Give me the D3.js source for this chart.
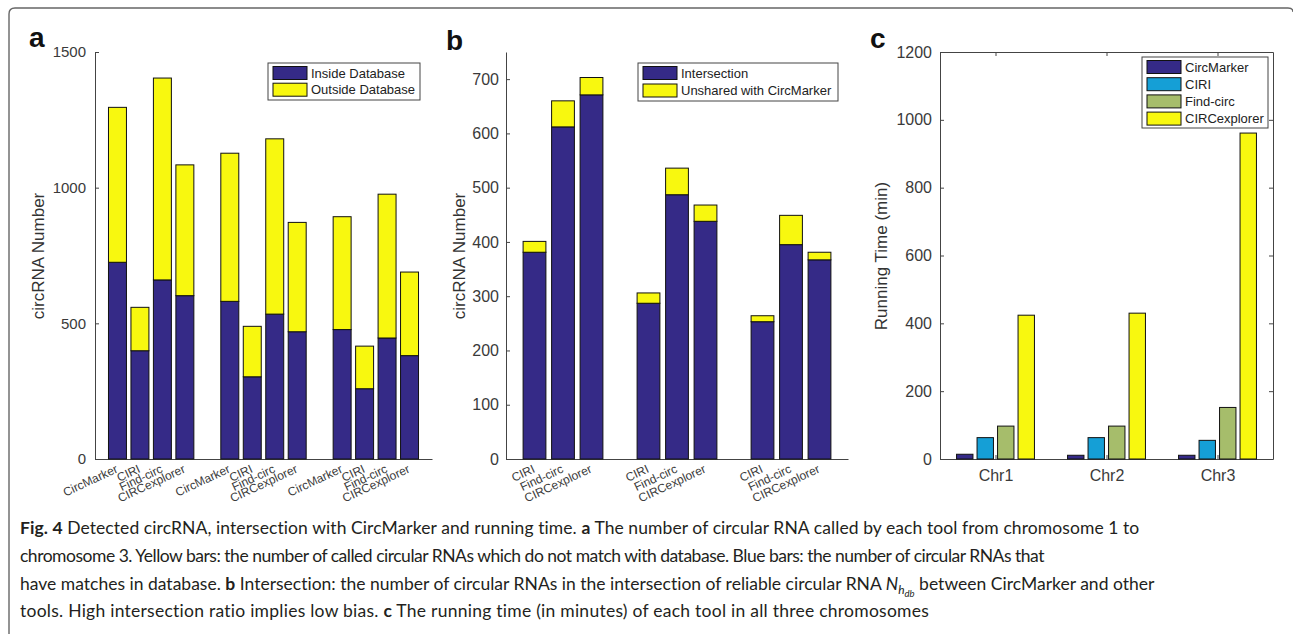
<!DOCTYPE html>
<html>
<head>
<meta charset="utf-8">
<script src="https://cdn.jsdelivr.net/npm/d3@7"></script>
<style>
body { margin: 0; background: #fff; }
svg { display: block; font-family: "Liberation Sans", Arial, sans-serif; }
.axis path, .axis line { stroke: #444; }
.axis text { fill: #3a3a3a; }
</style>
</head>
<body>
<svg id="fig" width="1293" height="634"></svg>
<script>
// ---- data ----
var tools = ["CircMarker", "CIRI", "Find-circ", "CIRCexplorer"];
var toolsB = ["CIRI", "Find-circ", "CIRCexplorer"];
var chroms = ["Chr1", "Chr2", "Chr3"];

// panel a : per chromosome, 4 tools each
var insideA = [725, 399, 660, 602, 581, 303, 534, 469, 477, 259, 446, 381];
var outsideA = [571, 160, 744, 482, 546, 186, 646, 403, 416, 157, 530, 308];
var ticksA = [0, 500, 1000, 1500];

// panel b : per chromosome, 3 tools each
var sharedB = [381, 612, 671, 287, 487, 438, 253, 395, 367];
var unsharedB = [20, 48, 32, 19, 49, 30, 11, 54, 14];
var ticksB = [0, 100, 200, 300, 400, 500, 600, 700];

// panel c : running time (min), rows = chromosomes, cols = tools
var timeC = [
	[14, 63, 97, 424],
	[11, 63, 97, 430],
	[11, 55, 152, 961]
];
var ticksC = [0, 200, 400, 600, 800, 1000, 1200];

var legendA = ["Inside Database", "Outside Database"];
var legendB = ["Intersection", "Unshared with CircMarker"];

var navy = "#352a87", yellow = "#f8f80f";
var colorsC = [navy, "#159fd6", "#a6bd6b", yellow];

var svg = d3.select("#fig");
var fmt = d3.format("d");

// frame round the figure
svg.append("path")
	.attr("d", "M9,634 V14 Q9,8 15,8 H1288 Q1293,8 1293,12")
	.attr("fill", "none").attr("stroke", "#666").attr("stroke-width", 1.4);

function styleAxis(g, size) {
	g.attr("class", "axis").attr("font-size", size).attr("font-family", null);
}

function rotateLabels(g) {
	g.selectAll(".tick text")
		.attr("y", 0).attr("dy", "0.72em")
		.attr("text-anchor", "end")
		.attr("transform", "translate(-3,5) rotate(-25)");
}

function drawLegend(x, y, w, h, labels, colors, pitch, fs) {
	var lg = svg.append("g").attr("transform", "translate(" + x + "," + y + ")");
	lg.append("rect").attr("width", w).attr("height", h)
		.attr("fill", "#fff").attr("stroke", "#444").attr("stroke-width", 1);
	labels.forEach(function (t, i) {
		lg.append("rect").attr("x", 5).attr("y", 3.5 + i * pitch)
			.attr("width", 34).attr("height", 13)
			.attr("fill", colors[i]).attr("stroke", "#111").attr("stroke-width", 1);
		lg.append("text").attr("x", 43).attr("y", 3.5 + i * pitch + 11)
			.attr("font-size", fs).attr("fill", "#222").text(t);
	});
}

function panelLetter(x, y, t) {
	svg.append("text").attr("x", x).attr("y", y)
		.attr("font-size", 28).attr("font-weight", "bold").attr("fill", "#111").text(t);
}

function yLabel(x, y, t, fs) {
	svg.append("text").attr("transform", "translate(" + x + "," + y + ") rotate(-90)")
		.attr("text-anchor", "middle").attr("font-size", fs).attr("fill", "#333").text(t);
}

////////////////////////////////////
// panel a
var xA = d3.scaleLinear().domain([0, 15]).range([95, 432]);
var yA = d3.scaleLinear().domain([0, 1500]).range([459, 52]);
var posA = insideA.map(function (d, k) { return Math.floor(k / 4) * 5 + k % 4 + 1; });

var gxA = svg.append("g").attr("transform", "translate(0,459)")
	.call(d3.axisBottom(xA).tickValues(posA).tickFormat(function (d, i) { return tools[i % 4]; })
		.tickSize(-4).tickSizeOuter(0));
styleAxis(gxA, 12);
rotateLabels(gxA);

var gyA = svg.append("g").attr("transform", "translate(95,0)")
	.call(d3.axisLeft(yA).tickValues(ticksA).tickFormat(fmt).tickSize(-4).tickSizeOuter(0).tickPadding(9));
styleAxis(gyA, 15);

var bwA = xA(0.8) - xA(0);
svg.append("g").selectAll("rect.inside").data(insideA).enter().append("rect")
	.attr("x", function (d, k) { return xA(posA[k]) - bwA / 2; })
	.attr("y", function (d) { return yA(d); })
	.attr("width", bwA)
	.attr("height", function (d) { return yA(0) - yA(d); })
	.attr("fill", navy).attr("stroke", "#111");
svg.append("g").selectAll("rect.outside").data(outsideA).enter().append("rect")
	.attr("x", function (d, k) { return xA(posA[k]) - bwA / 2; })
	.attr("y", function (d, k) { return yA(d + insideA[k]); })
	.attr("width", bwA)
	.attr("height", function (d) { return yA(0) - yA(d); })
	.attr("fill", yellow).attr("stroke", "#111");

drawLegend(268, 63, 152, 37, legendA, [navy, yellow], 16.7, 13);
panelLetter(29, 47, "a");
yLabel(44, 256, "circRNA Number", 17);

////////////////////////////////////
// panel b
var xB = d3.scaleLinear().domain([0, 12]).range([506, 848]);
var yB = d3.scaleLinear().domain([0, 750]).range([459, 52]);
var posB = sharedB.map(function (d, k) { return Math.floor(k / 3) * 4 + k % 3 + 1; });

var gxB = svg.append("g").attr("transform", "translate(0,459)")
	.call(d3.axisBottom(xB).tickValues(posB).tickFormat(function (d, i) { return toolsB[i % 3]; })
		.tickSize(-4).tickSizeOuter(0));
styleAxis(gxB, 12);
rotateLabels(gxB);

var gyB = svg.append("g").attr("transform", "translate(506,0)")
	.call(d3.axisLeft(yB).tickValues(ticksB).tickFormat(fmt).tickSize(-4).tickSizeOuter(0).tickPadding(7));
styleAxis(gyB, 16);

var bwB = xB(0.8) - xB(0);
svg.append("g").selectAll("rect").data(sharedB).enter().append("rect")
	.attr("x", function (d, k) { return xB(posB[k]) - bwB / 2; })
	.attr("y", function (d) { return yB(d); })
	.attr("width", bwB)
	.attr("height", function (d) { return yB(0) - yB(d); })
	.attr("fill", navy).attr("stroke", "#111");
svg.append("g").selectAll("rect").data(unsharedB).enter().append("rect")
	.attr("x", function (d, k) { return xB(posB[k]) - bwB / 2; })
	.attr("y", function (d, k) { return yB(d + sharedB[k]); })
	.attr("width", bwB)
	.attr("height", function (d) { return yB(0) - yB(d); })
	.attr("fill", yellow).attr("stroke", "#111");

drawLegend(638, 63, 200, 38, legendB, [navy, yellow], 17.5, 13);
panelLetter(446, 50, "b");
yLabel(465, 256, "circRNA Number", 17);

////////////////////////////////////
// panel c
var xC = d3.scaleLinear().domain([0.5, 3.5]).range([940, 1273]);
var yC = d3.scaleLinear().domain([0, 1200]).range([459, 52]);
var inner = d3.scaleBand().domain(tools).range([-41, 41]).paddingInner(0.2).paddingOuter(0.1);

var gxC = svg.append("g").attr("transform", "translate(0,459)")
	.call(d3.axisBottom(xC).tickValues([1, 2, 3]).tickFormat(function (d) { return chroms[d - 1]; })
		.tickSize(-4).tickSizeOuter(0).tickPadding(11));
styleAxis(gxC, 16);
var gtC = svg.append("g").attr("transform", "translate(0,52)")
	.call(d3.axisTop(xC).tickValues([1, 2, 3]).tickFormat("").tickSize(-4).tickSizeOuter(0));
styleAxis(gtC, 16);
var gyC = svg.append("g").attr("transform", "translate(940,0)")
	.call(d3.axisLeft(yC).tickValues(ticksC).tickFormat(fmt).tickSize(-4).tickSizeOuter(0).tickPadding(8));
styleAxis(gyC, 16);
var grC = svg.append("g").attr("transform", "translate(1273,0)")
	.call(d3.axisRight(yC).tickValues(ticksC).tickFormat("").tickSize(-4).tickSizeOuter(0));
styleAxis(grC, 16);

chroms.forEach(function (c, ci) {
	svg.append("g").selectAll("rect").data(timeC[ci]).enter().append("rect")
		.attr("x", function (d, i) { return xC(ci + 1) + inner(tools[i]); })
		.attr("y", function (d) { return yC(d); })
		.attr("width", inner.bandwidth())
		.attr("height", function (d) { return yC(0) - yC(d); })
		.attr("fill", function (d, i) { return colorsC[i]; })
		.attr("stroke", "#111");
});

drawLegend(1142, 57, 126, 71, tools, colorsC, 17.2, 13);
panelLetter(870, 48, "c");
yLabel(887, 256, "Running Time (min)", 17);

////////////////////////////////////
// caption
var captionLines = [
	[["b", "Fig. 4"], ["n", " Detected circRNA, intersection with CircMarker and running time. "], ["b", "a"],
		["n", " The number of circular RNA called by each tool from chromosome 1 to"]],
	[["n", "chromosome 3. Yellow bars: the number of called circular RNAs which do not match with database. Blue bars: the number of circular RNAs that"]],
	[["n", "have matches in database. "], ["b", "b"],
		["n", " Intersection: the number of circular RNAs in the intersection of reliable circular RNA "],
		["i", "N"], ["s1", "h"], ["s2", "db"], ["r", " between CircMarker and other"]],
	[["n", "tools. High intersection ratio implies low bias. "], ["b", "c"],
		["n", " The running time (in minutes) of each tool in all three chromosomes"]]
];
var captionEnds = [1140, 1044, 1155, 930];
var captionBase = [534, 562, 590, 617];

captionLines.forEach(function (segs, li) {
	var t = svg.append("text").attr("x", 20).attr("y", captionBase[li])
		.attr("font-family", "Lato, 'Open Sans', sans-serif")
		.attr("font-size", 17.5).attr("fill", "#231f20");
	segs.forEach(function (s) {
		var sp = t.append("tspan").text(s[1]);
		if (s[0] == "b") sp.attr("font-weight", "bold");
		if (s[0] == "i") sp.attr("font-style", "italic");
		if (s[0] == "s1") sp.attr("font-style", "italic").attr("font-size", 12).attr("dy", 4);
		if (s[0] == "s2") sp.attr("font-style", "italic").attr("font-size", 9.5).attr("dy", 3);
		if (s[0] == "r") sp.attr("dy", -7);
	});
	var node = t.node();
	var len = node.getComputedTextLength();
	t.style("letter-spacing", ((captionEnds[li] - 20 - len) / node.textContent.length) + "px");
});
</script>
</body>
</html>
